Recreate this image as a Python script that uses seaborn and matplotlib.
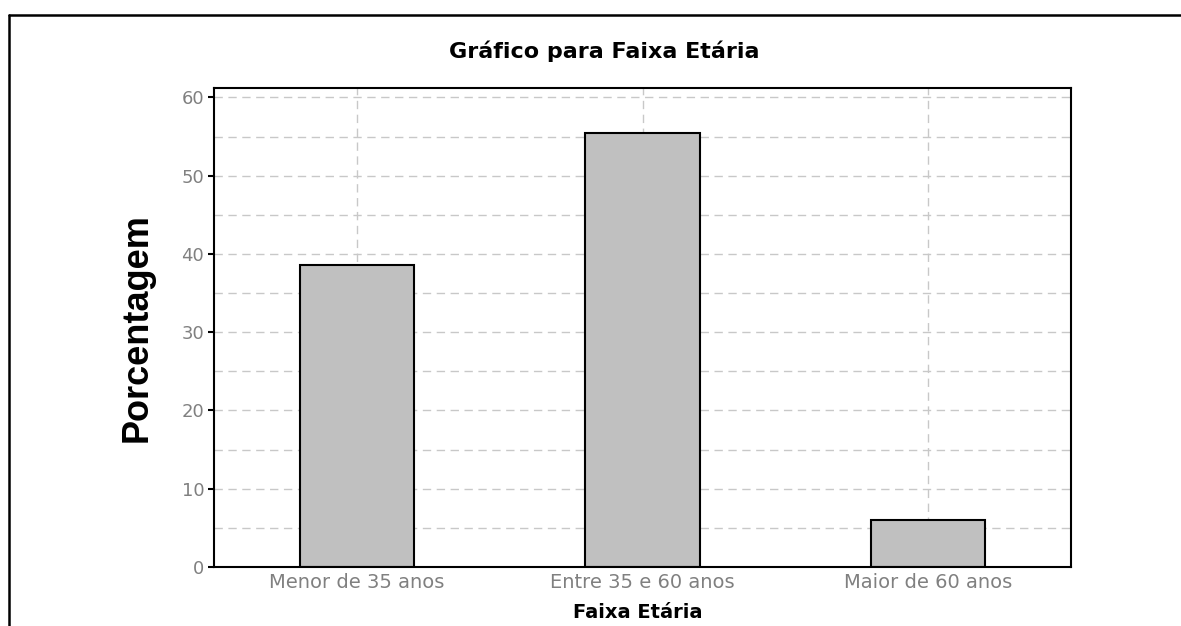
import pandas as pd
import matplotlib
matplotlib.use('Agg')
import matplotlib.pyplot as plt
from matplotlib.lines import Line2D
import seaborn as sns

# Données
faixas = ['Menor de 35 anos', 'Entre 35 e 60 anos', 'Maior de 60 anos']
porcentagens = [38.6, 55.4, 6.0]
ticks_y = [0, 10, 20, 30, 40, 50, 60]

df = pd.DataFrame({'faixa': faixas, 'porcentagem': porcentagens})

sns.set_style('white')
plt.rcParams['font.family'] = ['DejaVu Sans']
plt.rcParams['text.color'] = 'black'

fig = plt.figure(figsize=(11.81, 6.26), dpi=100)
ax = fig.add_axes([0.1812, 0.0942, 0.7257, 0.7652])

sns.barplot(data=df, x='faixa', y='porcentagem', ax=ax, color='#c0c0c0',
            edgecolor='black', linewidth=1.5, width=0.4, saturation=1)

ax.set_xlim(-0.5, 2.5)
ax.set_ylim(0, 61.2)
ax.set_yticks(ticks_y)
ax.set_yticks(range(5, 61, 10), minor=True)

# Grille pointillée
grid_kw = dict(color='#c8c8c8', linestyle=(0, (6, 4)), linewidth=1.0)
ax.grid(True, axis='y', which='both', **grid_kw)
ax.grid(True, axis='x', which='major', **grid_kw)
ax.set_axisbelow(True)

for s in ax.spines.values():
    s.set_visible(True)
    s.set_color('black')
    s.set_linewidth(1.5)

ax.tick_params(axis='y', which='major', left=True, length=4, width=1.5,
               color='black', labelcolor='#808080', labelsize=13, pad=3)
ax.tick_params(axis='y', which='minor', left=False)
ax.tick_params(axis='x', bottom=False, labelcolor='#808080', labelsize=14,
               pad=1)

ax.set_xlabel('')
ax.set_ylabel('')

# Titres
fig.text(604 / 1181, 1 - 51 / 626, 'Gráfico para Faixa Etária',
         ha='center', va='center', fontsize=16, fontweight='bold',
         color='black')
fig.text(638 / 1181, 1 - 612 / 626, 'Faixa Etária',
         ha='center', va='center', fontsize=14, fontweight='bold',
         color='black')
fig.text(137 / 1181, 1 - 328 / 626, 'Porcentagem', rotation=90,
         ha='center', va='center', fontsize=26, fontweight='bold',
         family=['Liberation Sans', 'DejaVu Sans'], color='black')

# Cadre extérieur (haut et gauche)
fig.add_artist(Line2D([8.5 / 1181, 1], [1 - 15 / 626, 1 - 15 / 626],
                      transform=fig.transFigure, color='black', lw=1.8))
fig.add_artist(Line2D([8.5 / 1181, 8.5 / 1181], [0, 1 - 15 / 626],
                      transform=fig.transFigure, color='black', lw=1.8))

plt.savefig('out.png', dpi=100)
